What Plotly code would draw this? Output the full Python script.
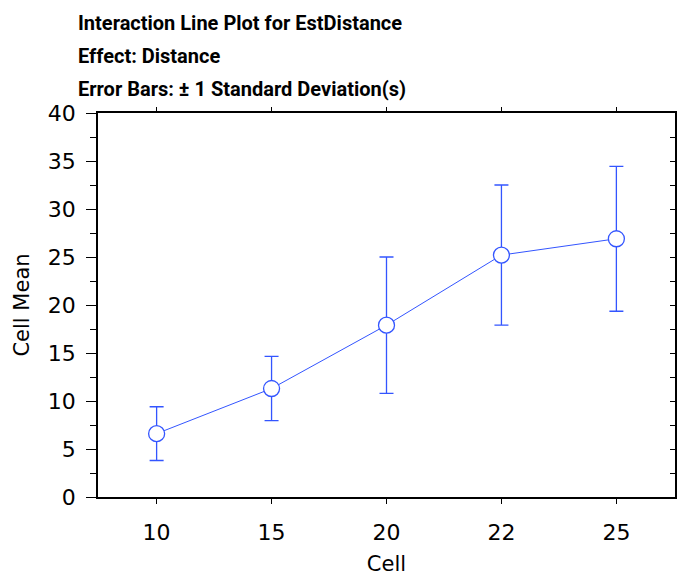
import plotly.graph_objects as go

categories = ["10", "15", "20", "22", "25"]
cell_means = [6.6, 11.3, 17.9, 25.2, 26.9]
std_devs = [2.8, 3.35, 7.1, 7.3, 7.55]

title_lines = [
    "Interaction Line Plot for EstDistance",
    "Effect: Distance",
    "Error Bars: \u00b1 1 Standard Deviation(s)",
]

BLUE = "#3355ff"
FONT = "DejaVu Sans"
TFONT = "Roboto"

fig = go.Figure()
fig.add_trace(go.Scatter(
    x=categories, y=cell_means,
    mode="lines+markers",
    line=dict(color=BLUE, width=1),
    marker=dict(symbol="circle", size=16, color="white",
                line=dict(color=BLUE, width=1.3)),
    error_y=dict(type="data", array=std_devs, visible=True,
                 color=BLUE, thickness=1.3, width=7),
    showlegend=False,
))
# invisible trace to drive mirrored top/right axes
fig.add_trace(go.Scatter(
    x=categories, y=cell_means, xaxis="x2", yaxis="y2",
    mode="markers", marker=dict(opacity=0), hoverinfo="skip",
    showlegend=False,
))

xr = [-0.51, 4.51]
yr = [0, 40]

fig.update_layout(
    width=681, height=579,
    margin=dict(l=98, r=6, t=113, b=82),
    paper_bgcolor="white", plot_bgcolor="white",
    font=dict(family=FONT, color="black"),
    xaxis=dict(
        type="category", categoryarray=categories, range=xr,
        automargin=False,
        showline=True, linecolor="black", linewidth=1.5,
        ticks="outside", ticklen=5, tickcolor="black", tickwidth=1,
        showgrid=False, zeroline=False,
        tickfont=dict(size=22, family=FONT),
        ticklabelstandoff=10,
        title=dict(text="Cell", font=dict(size=21, family=FONT), standoff=12),
    ),
    yaxis=dict(
        range=yr, dtick=5, automargin=False,
        showline=True, linecolor="black", linewidth=1.5,
        ticks="outside", ticklen=10, tickcolor="black", tickwidth=1,
        minor=dict(dtick=2.5, ticks="outside", ticklen=6, tickcolor="black", tickwidth=1),
        showgrid=False, zeroline=False,
        tickfont=dict(size=22, family=FONT),
        ticklabelstandoff=6,
        title=dict(text="Cell Mean", font=dict(size=21, family=FONT), standoff=12),
    ),
    xaxis2=dict(
        type="category", categoryarray=categories, range=xr,
        overlaying="x", side="top", anchor="y", automargin=False,
        showline=True, linecolor="black", linewidth=1.5,
        ticks="outside", ticklen=4, tickcolor="black", tickwidth=1,
        showticklabels=False, showgrid=False, zeroline=False,
    ),
    yaxis2=dict(
        range=yr, dtick=2.5,
        overlaying="y", side="right", anchor="x", automargin=False,
        showline=True, linecolor="black", linewidth=1.5,
        ticks="inside", ticklen=5, tickcolor="black", tickwidth=1,
        showticklabels=False, showgrid=False, zeroline=False,
    ),
)

title_centers_px = [23.5, 55.5, 89]
for txt, cy in zip(title_lines, title_centers_px):
    fig.add_annotation(
        text=txt, xref="paper", yref="paper",
        x=(76 - 98) / (681 - 98 - 6), y=(497 - cy) / (497 - 113),
        xanchor="left", yanchor="middle", showarrow=False,
        font=dict(size=20, family=TFONT, color="black", weight="bold"),
    )

fig.write_html("out.html", config={"displayModeBar": False},
               post_script="document.body.style.margin='0';")
